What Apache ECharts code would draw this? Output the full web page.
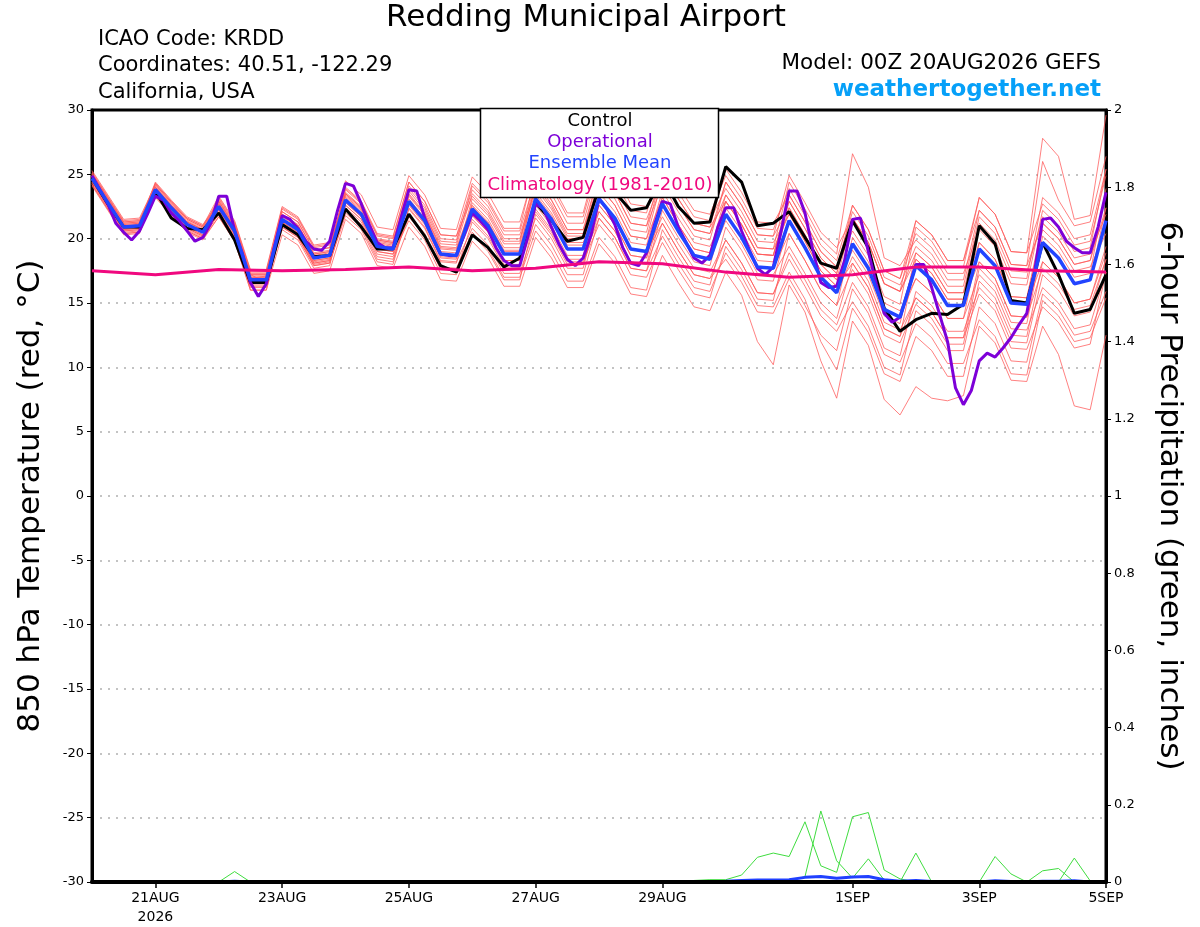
<!DOCTYPE html>
<html>
<head>
<meta charset="UTF-8">
<title>Redding Municipal Airport</title>
<style>
  html, body { margin: 0; padding: 0; background: #fff; }
  #main { width: 1200px; height: 927px; }
</style>
</head>
<body>
<div id="main"></div>
<script src="https://cdn.jsdelivr.net/npm/echarts@6/dist/echarts.min.js"></script>
<script>
// x axis tick positions (hours from 00Z 20AUG2026) and their labels
var xTickHours = [24, 72, 120, 168, 216, 288, 336, 384];
var xTickLabels = ['21AUG\n2026', '23AUG', '25AUG', '27AUG', '29AUG', '1SEP', '3SEP', '5SEP'];

// 850 hPa temperature, 6-hourly (65 values)
var control = [24.7,22.7,20.9,20.9, 23.7,21.6,20.8,20.7, 22.0,19.9,16.6,16.6, 21.1,20.3,18.6,18.7,
  22.3,20.9,19.2,19.2, 21.9,20.2,17.9,17.4, 20.3,19.3,17.8,18.5, 22.8,21.4,19.8,20.1,
  24.0,23.6,22.2,22.4, 24.8,22.5,21.2,21.3, 25.6,24.4,21.0,21.2, 22.1,20.1,18.1,17.7,
  21.4,19.3,14.6,12.8, 13.7,14.2,14.1,14.9, 21.0,19.6,15.2,15.0, 19.7,17.2,14.2,14.5, 17.2];
var ensMean = [24.7,22.8,20.9,21.0, 23.8,22.4,21.1,20.5, 22.5,20.6,16.8,16.8, 21.5,20.7,18.5,18.7,
  23.0,21.9,19.4,19.2, 22.9,21.4,18.8,18.7, 22.3,21.0,18.8,18.8, 23.1,21.5,19.2,19.2,
  23.1,21.6,19.2,19.0, 22.7,20.6,18.7,18.4, 21.9,20.1,17.8,17.7, 21.4,19.3,17.0,15.8,
  19.6,17.7,14.5,13.9, 17.9,16.8,14.8,14.8, 19.2,17.9,15.0,14.9, 19.7,18.5,16.5,16.8, 21.4];
// operational run, 3-hourly (129 values)
var operational = [24.9,23.8,22.7,21.2,20.5,19.9,20.6,21.9, 23.3,23.0,22.0,21.4,20.6,19.8,20.1,21.2,
  23.3,23.3,20.6,18.8,16.6,15.5,16.5,19.3, 21.8,21.5,20.8,19.8,19.2,19.1,19.8,22.2,
  24.3,24.1,22.7,21.1,19.7,19.3,19.3,21.6, 23.8,23.7,21.6,20.1,18.8,18.7,18.7,20.3,
  22.0,21.4,20.7,19.3,18.3,17.9,17.9,20.1, 22.7,22.3,20.9,19.5,18.4,17.9,18.5,20.3,
  23.1,22.3,21.1,19.3,18.1,17.9,18.9,21.1, 22.9,22.7,20.9,19.7,18.5,18.1,18.7,20.9,
  22.4,22.4,20.6,19.1,17.7,17.2,17.8,20.6, 23.7,23.7,22.0,19.1,16.6,16.2,16.3,18.3,
  21.5,21.6,19.0,16.5,14.2,13.5,13.9,15.9, 18.0,18.0,16.2,14.1,12.0,8.4,7.1,8.2,
  10.5,11.1,10.8,11.5,12.3,13.3,14.2,17.5, 21.5,21.6,20.9,19.8,19.3,18.9,18.9,20.9, 23.6];
// climatology 1981-2010, daily at 00Z (17 values)
var climatology = [17.5,17.2,17.6,17.5,17.6,17.8,17.5,17.7,18.2,18.05,17.4,17.0,17.2,17.8,17.8,17.5,17.4];

// ensemble members, 6-hourly
var m01 = [25.0,23.1,21.2,21.3,24.3,22.9,21.6,21.0,23.3,21.4,17.6,17.6,22.5,21.7,19.5,19.7,24.5,23.4,20.9,20.7,24.9,23.4,20.8,20.7,24.8,23.5,21.3,21.3,25.6,24.0,21.7,21.7,26.1,24.6,22.2,22.0,26.2,24.1,22.2,21.9,24.9,23.1,20.8,20.7,23.9,21.8,19.5,18.3,22.6,20.7,17.5,16.9,21.4,20.3,18.3,18.3,23.2,21.9,19.0,18.9,27.8,26.4,21.5,21.8,29.6];
var m02 = [24.4,22.5,20.6,20.7,23.3,21.9,20.6,20.0,21.7,19.8,16.0,16.0,20.3,19.5,17.3,17.5,21.5,20.4,17.9,17.7,20.9,19.4,16.8,16.7,19.8,18.5,16.3,16.3,20.1,18.5,16.2,16.2,19.6,18.1,15.7,15.5,18.7,16.6,14.7,14.4,17.4,15.6,12.0,10.2,16.4,14.3,10.5,7.6,13.6,11.7,7.5,6.3,8.5,7.6,7.4,7.8,13.2,11.9,9.0,8.9,13.2,11.0,7.0,6.7,12.5];
var m03 = [25.2,23.3,21.4,21.5,24.0,22.6,21.3,20.7,23.0,21.1,17.3,17.3,21.8,21.0,18.8,19.0,24.0,22.9,20.4,20.2,24.4,22.9,20.3,20.2,23.3,22.0,19.8,19.8,25.1,23.5,21.2,21.2,25.6,24.1,21.7,21.5,24.7,22.6,20.7,20.4,23.4,21.6,19.3,19.2,24.4,22.3,20.0,18.8,26.6,24.0,18.5,17.9,19.9,18.8,16.8,16.8,22.2,20.9,18.0,17.9,26.0,23.0,21.0,21.3,26.4];
var m04 = [24.2,22.3,20.4,20.5,23.5,22.1,20.8,20.2,22.3,20.4,16.5,16.9,21.0,20.2,18.0,18.2,22.0,20.9,18.4,18.2,22.4,20.9,18.3,18.2,20.8,19.5,17.3,17.3,21.1,19.5,17.2,17.2,21.6,20.1,17.7,17.5,20.2,18.1,16.2,15.9,18.9,17.1,14.8,14.7,17.4,15.3,12.0,9.8,14.6,12.7,9.5,8.9,12.4,11.3,9.3,9.3,14.7,13.4,10.5,10.4,15.7,14.5,12.5,12.8,15.9];
var m05 = [24.9,23.0,21.1,21.2,24.4,23.0,21.7,21.1,22.8,20.9,17.1,17.1,22.3,21.5,19.3,19.5,23.5,22.4,19.9,19.7,23.9,22.4,19.8,19.7,24.1,22.8,20.6,20.6,24.6,23.0,20.7,20.7,24.1,22.6,20.2,20.0,23.2,21.1,19.2,18.9,22.9,21.1,18.8,18.7,22.9,20.8,18.5,17.3,21.6,19.7,16.5,15.9,18.9,17.8,15.8,15.8,19.7,18.4,15.5,15.4,21.2,20.0,18.0,18.3,23.4];
var m06 = [24.5,22.6,20.7,20.8,23.8,22.4,21.1,20.5,22.1,20.2,16.4,16.4,21.3,20.5,18.3,18.5,22.2,21.1,18.6,18.4,21.7,20.2,17.6,17.5,21.3,20.0,17.8,17.8,22.6,21.0,18.7,18.7,23.1,21.6,19.2,19.0,21.7,19.6,17.7,17.4,19.9,18.1,15.8,15.7,18.9,16.8,14.5,13.3,16.6,14.7,11.5,10.9,15.9,14.8,12.8,12.8,16.2,14.9,12.0,11.9,17.2,16.0,14.0,14.3,18.4];
var m07 = [25.1,23.2,21.3,21.4,23.6,22.2,20.9,20.3,22.7,20.8,17.0,17.0,22.1,21.3,19.1,19.3,23.2,22.1,19.6,19.4,22.6,21.1,18.5,18.4,22.8,21.5,19.3,19.3,24.1,22.5,20.2,20.2,24.6,23.1,20.7,20.5,25.2,23.1,21.2,20.9,25.4,23.6,21.3,21.2,23.4,21.3,19.0,17.8,20.6,18.7,15.5,14.9,20.9,19.8,17.8,17.8,23.2,21.9,19.0,18.9,22.7,21.5,19.5,19.8,24.9];
var m08 = [24.3,22.4,20.5,20.6,24.1,22.7,21.4,20.8,22.3,20.4,16.6,16.6,20.7,19.9,17.7,17.9,22.6,21.5,19.0,18.8,23.4,21.9,19.3,19.2,22.3,21.0,18.8,18.8,22.1,20.5,18.2,18.2,21.1,19.6,17.2,17.0,19.7,17.6,15.7,15.4,19.4,17.6,15.3,15.2,20.4,18.3,16.0,14.8,20.1,18.2,15.0,14.4,16.9,15.8,13.8,13.8,17.2,15.9,13.0,12.9,16.2,15.0,13.0,13.3,17.4];
var m09 = [24.8,22.9,21.0,21.1,24.2,22.8,21.5,20.9,23.1,21.2,17.4,17.4,21.9,21.1,18.9,19.1,23.8,22.7,20.2,20.0,23.1,21.6,19.0,18.9,21.8,20.5,18.3,18.3,23.1,21.5,19.2,19.2,23.6,22.1,19.7,19.5,23.7,21.6,19.7,19.4,21.9,20.1,17.8,17.7,20.4,18.3,16.0,14.8,17.6,15.7,12.5,11.9,14.9,13.8,11.8,11.8,17.7,16.4,13.5,13.4,19.7,18.5,16.5,16.8,22.4];
var m10 = [24.6,22.7,20.8,20.9,23.4,22.0,20.7,20.1,21.9,20.0,16.2,16.2,21.1,20.3,18.1,18.3,23.3,22.2,19.7,19.5,23.7,22.2,19.6,19.5,23.5,22.2,20.0,20.0,23.6,22.0,19.7,19.7,22.6,21.1,18.7,18.5,22.7,20.6,18.7,18.4,22.9,21.1,18.8,18.7,23.4,21.3,19.0,17.8,22.1,20.2,17.0,16.4,19.4,18.3,16.3,16.3,21.7,20.4,17.5,17.4,21.7,20.5,18.5,18.8,21.9];
var m11 = [25.3,23.4,21.5,21.6,24.2,22.8,21.5,20.9,22.6,20.9,17.2,16.6,21.2,20.4,18.2,18.4,22.4,21.3,18.8,18.6,21.9,20.4,17.8,17.7,20.5,19.2,17.0,17.0,20.6,19.0,16.7,16.7,20.1,18.6,16.2,16.0,20.7,18.6,16.7,16.4,20.9,19.1,16.8,16.7,21.4,19.3,17.0,15.8,18.6,16.7,13.5,12.9,15.4,14.3,12.3,12.3,15.7,14.4,11.5,11.4,14.7,13.5,11.5,11.8,17.4];
var m12 = [24.1,22.2,20.3,20.4,23.6,22.2,20.9,20.3,22.9,21.0,17.2,17.2,22.1,21.3,19.1,19.3,23.4,22.3,19.8,19.6,22.9,21.4,18.8,18.7,23.1,21.8,19.6,19.6,24.6,23.0,20.7,20.7,25.1,23.6,21.2,21.0,24.2,22.1,20.2,19.9,24.4,22.6,20.3,20.2,24.9,22.8,20.5,19.3,21.6,19.7,16.5,15.9,18.4,17.3,15.3,15.3,18.2,16.9,14.0,13.9,20.2,19.0,17.0,17.3,23.9];
var m13 = [24.7,22.8,20.9,21.0,24.0,22.6,21.3,20.7,22.2,20.3,16.5,16.5,21.7,20.9,18.7,18.9,23.6,22.5,20.0,19.8,24.1,22.6,20.0,19.9,23.8,22.5,20.3,20.3,23.9,22.3,20.0,20.0,23.1,21.6,19.2,19.0,21.2,19.1,17.2,16.9,19.9,18.1,15.8,15.7,18.4,16.3,14.0,12.8,15.1,13.2,10.0,9.4,14.4,13.3,11.3,11.3,16.7,15.4,12.5,12.4,18.2,17.0,15.0,15.3,19.4];
var m14 = [24.9,23.0,21.1,21.2,23.3,21.9,20.6,20.0,22.0,20.1,16.3,16.3,21.5,20.7,18.5,18.7,22.8,21.7,19.2,19.0,23.5,22.0,19.4,19.3,22.6,21.3,19.1,19.1,24.3,22.7,20.4,20.4,25.1,23.6,21.2,21.0,25.7,23.6,21.7,21.4,23.9,22.1,19.8,19.7,21.9,19.8,17.5,16.3,19.1,17.2,14.0,13.4,18.9,17.8,15.8,15.8,21.2,19.9,17.0,16.9,23.2,22.0,20.0,20.3,25.4];
var m15 = [24.4,22.5,20.6,20.7,23.9,22.5,21.2,20.6,22.7,20.8,17.0,17.0,20.9,20.1,17.9,18.1,21.8,20.7,18.2,18.0,22.3,20.8,18.2,18.1,22.5,21.2,19.0,19.0,22.3,20.7,18.4,18.4,21.6,20.1,17.7,17.5,22.2,20.1,18.2,17.9,22.4,20.6,18.3,18.2,22.4,20.3,18.0,16.8,19.6,17.7,14.5,13.9,16.9,15.8,13.8,13.8,19.7,18.4,15.5,15.4,20.7,19.5,17.5,17.8,20.4];
var m16 = [25.1,23.2,21.3,21.4,23.8,22.4,21.1,20.5,23.2,21.3,17.5,17.5,22.4,21.6,19.4,19.6,23.5,22.4,19.9,19.7,22.9,21.4,18.8,18.7,21.5,20.2,18.0,18.0,21.6,20.0,17.7,17.7,22.6,21.1,18.7,18.5,23.2,21.1,19.2,18.9,23.4,21.6,19.3,19.2,21.9,19.8,17.5,16.3,18.1,16.2,13.0,12.4,15.4,14.3,12.3,12.3,18.2,16.9,14.0,13.9,17.7,16.5,14.5,14.8,18.4];
var m17 = [24.5,22.6,20.7,20.8,24.3,22.9,21.6,21.0,22.7,20.3,16.9,17.1,21.8,21.0,18.8,19.0,23.9,22.8,20.3,20.1,24.4,22.9,20.3,20.2,24.3,23.0,20.8,20.8,25.9,24.3,22.0,22.0,26.6,25.1,22.7,22.5,25.2,23.1,21.2,20.9,22.9,21.1,18.8,18.7,22.9,20.8,18.5,17.3,22.6,20.7,17.5,16.9,20.4,19.3,17.3,17.3,20.7,19.4,16.5,16.4,22.2,21.0,19.0,19.3,25.4];
var m18 = [24.8,22.9,21.0,21.1,23.5,22.1,20.8,20.2,22.9,21.0,17.2,17.2,21.3,20.5,18.3,18.5,22.6,21.5,19.0,18.8,21.4,19.9,17.3,17.2,20.3,19.0,16.8,16.8,21.9,20.3,18.0,18.0,22.1,20.6,18.2,18.0,21.2,19.1,17.2,16.9,18.4,16.6,14.3,14.2,16.9,14.8,12.5,11.3,16.1,14.2,11.0,10.4,13.4,12.3,10.3,10.3,13.7,12.4,9.5,9.4,15.2,14.0,12.0,12.3,15.4];
var m19 = [24.2,22.3,20.4,20.5,23.2,21.8,20.5,19.9,21.7,19.8,16.0,16.0,21.1,20.3,18.1,18.3,23.0,21.9,19.4,19.2,23.3,21.8,19.2,19.1,22.3,21.0,18.8,18.8,23.4,21.8,19.5,19.5,24.1,22.6,20.2,20.0,24.7,22.6,20.7,20.4,24.4,22.6,20.3,20.2,22.4,20.3,18.0,16.8,21.6,19.7,16.5,15.9,21.4,20.3,18.3,18.3,22.2,20.9,18.0,17.9,21.2,20.0,18.0,18.3,22.4];
var m20 = [25.0,23.1,21.2,21.3,24.0,22.6,21.3,20.7,22.3,20.4,16.6,16.6,20.9,20.1,17.9,18.1,22.8,21.7,19.2,19.0,22.7,21.2,18.6,18.5,21.8,20.5,18.3,18.3,23.1,21.5,19.2,19.2,22.1,20.6,18.2,18.0,22.7,20.6,18.7,18.4,21.4,19.6,17.3,17.2,19.4,17.3,15.0,13.8,18.1,16.2,13.0,12.4,18.4,17.3,15.3,15.3,19.2,17.9,15.0,14.9,18.2,17.0,15.0,15.3,18.9];
var members = [m01, m02, m03, m04, m05, m06, m07, m08, m09, m10, m11, m12, m13, m14, m15, m16, m17, m18, m19, m20];

// 6-hour precipitation (inches), 6-hourly; members with rain plus the ensemble mean
var pA = [0,0,0,0,0,0,0,0,0,0,0,0,0,0,0,0,0,0,0,0,0,0,0,0,0,0,0,0,0,0,0,0,0,0,0,0,0,0,0.004,0.006,0.006,0.018,0.064,0.075,0.066,0.156,0.042,0.025,0.169,0.180,0.031,0.008,0,0,0,0,0,0,0,0,0,0,0,0,0];
var pB = [0,0,0,0,0,0,0,0,0,0,0,0,0,0,0,0,0,0,0,0,0,0,0,0,0,0,0,0,0,0,0,0,0,0,0,0,0,0,0,0,0,0,0,0,0.003,0.014,0.184,0.055,0.010,0.060,0.005,0,0.075,0,0,0,0,0,0,0,0,0,0,0,0];
var pC = [0,0,0,0,0,0,0,0,0,0.027,0,0,0,0,0,0,0,0,0,0,0,0,0,0,0,0,0,0,0,0,0,0,0,0,0,0,0,0,0,0,0,0,0,0,0,0,0,0,0,0,0,0,0,0,0,0,0,0,0,0,0,0,0,0,0];
var pD = [0,0,0,0,0,0,0,0,0,0,0,0,0,0,0,0,0,0,0,0,0,0,0,0,0,0,0,0,0,0,0,0,0,0,0,0,0,0,0,0,0,0,0,0,0,0,0,0,0,0,0,0,0,0,0,0,0,0.066,0.021,0,0,0,0,0,0];
var pE = [0,0,0,0,0,0,0,0,0,0,0,0,0,0,0,0,0,0,0,0,0,0,0,0,0,0,0,0,0,0,0,0,0,0,0,0,0,0,0,0,0,0,0,0,0,0,0,0,0,0,0,0,0,0,0,0,0,0,0,0,0.029,0.035,0,0,0];
var pF = [0,0,0,0,0,0,0,0,0,0,0,0,0,0,0,0,0,0,0,0,0,0,0,0,0,0,0,0,0,0,0,0,0,0,0,0,0,0,0,0,0,0,0,0,0,0,0,0,0,0,0,0,0,0,0,0,0,0,0,0,0,0,0.062,0.003,0];
var precipMembers = [pA, pB, pC, pD, pE, pF];
var precipMean = [0,0,0,0,0,0,0,0,0,0.002,0,0,0,0,0,0,0,0,0,0,0,0,0,0,0,0,0,0,0,0,0,0,0,0,0,0,0,0,0.001,0.001,0.002,0.004,0.005,0.005,0.006,0.012,0.014,0.010,0.013,0.014,0.006,0.002,0.004,0.001,0,0,0,0.003,0.001,0,0.002,0.002,0.003,0,0];

var FONT = '"DejaVu Sans", Verdana, sans-serif';

function toXY(arr, step) {
  return arr.map(function(v, i) { return [i * step, v]; });
}

var series = [];
members.forEach(function(m, k) {
  series.push({
    name: 'member' + (k + 1), type: 'line', data: toXY(m, 6), symbol: 'none', silent: true,
    lineStyle: { color: '#ff5a5a', width: 0.9, opacity: 0.85 }, z: 1
  });
});
precipMembers.forEach(function(p, k) {
  series.push({
    name: 'precip' + (k + 1), type: 'line', yAxisIndex: 1, data: toXY(p, 6), symbol: 'none', silent: true,
    lineStyle: { color: '#3fdc3f', width: 1 }, z: 2
  });
});
series.push({
  name: 'Precip Mean', type: 'line', yAxisIndex: 1, data: toXY(precipMean, 6), symbol: 'none',
  lineStyle: { color: '#2040ff', width: 3 }, z: 3
});
series.push({
  name: 'Control', type: 'line', data: toXY(control, 6), symbol: 'none',
  lineStyle: { color: '#000', width: 3 }, z: 4
});
series.push({
  name: 'Operational', type: 'line', data: toXY(operational, 3), symbol: 'none',
  lineStyle: { color: '#7d00d8', width: 3 }, z: 5
});
series.push({
  name: 'Ensemble Mean', type: 'line', data: toXY(ensMean, 6), symbol: 'none',
  lineStyle: { color: '#2244ff', width: 3.5 }, z: 6
});
series.push({
  name: 'Climatology (1981-2010)', type: 'line', data: toXY(climatology, 24), symbol: 'none',
  lineStyle: { color: '#f0087f', width: 3 }, z: 7
});

var chart = echarts.init(document.getElementById('main'));
var option = {
  backgroundColor: '#fff',
  animation: false,
  textStyle: { fontFamily: FONT },
  grid: { left: 92, right: 94, top: 110, bottom: 44, show: true, borderColor: '#000', borderWidth: 3 },
  xAxis: {
    type: 'value', min: 0, max: 384, z: 10,
    axisLine: { onZero: false, lineStyle: { color: '#000', width: 4 } },
    axisTick: { customValues: xTickHours, length: 6, lineStyle: { color: '#000', width: 1.5 } },
    axisLabel: {
      customValues: xTickHours, color: '#000', fontSize: 14, fontFamily: FONT, margin: 7, lineHeight: 19,
      formatter: function(v) { return xTickLabels[xTickHours.indexOf(v)] || ''; }
    },
    splitLine: { show: false }
  },
  yAxis: [{
    type: 'value', min: -30, max: 30, interval: 5,
    name: '850 hPa Temperature (red, °C)', nameLocation: 'middle', nameGap: 46, nameRotate: 90,
    nameTextStyle: { fontSize: 31, color: '#000', fontFamily: FONT },
    axisLine: { show: true, onZero: false, lineStyle: { color: '#000', width: 3 } },
    axisTick: { show: true, length: 5, lineStyle: { color: '#000', width: 1 } },
    axisLabel: { color: '#000', fontSize: 13, fontFamily: FONT, margin: 8 },
    splitLine: { show: true, showMinLine: false, showMaxLine: false, lineStyle: { color: '#b0b0b0', width: 1.5, type: [2, 6] } }
  }, {
    type: 'value', min: 0, max: 2, interval: 0.2, position: 'right',
    name: '6-hour Precipitation (green, inches)', nameLocation: 'middle', nameGap: 48, nameRotate: -90,
    nameTextStyle: { fontSize: 31, color: '#000', fontFamily: FONT },
    axisLine: { show: true, onZero: false, lineStyle: { color: '#000', width: 3 } },
    axisTick: { show: true, length: 5, lineStyle: { color: '#000', width: 1 } },
    axisLabel: { color: '#000', fontSize: 13, fontFamily: FONT, margin: 8 },
    splitLine: { show: false }
  }],
  graphic: [
    { type: 'text', z: 100, style: { x: 586, y: 18, text: 'Redding Municipal Airport', textAlign: 'center', textVerticalAlign: 'middle', font: '31px ' + FONT, fill: '#000' } },
    { type: 'text', z: 100, style: { x: 98, y: 40, text: 'ICAO Code: KRDD', textVerticalAlign: 'middle', font: '21px ' + FONT, fill: '#000' } },
    { type: 'text', z: 100, style: { x: 98, y: 66, text: 'Coordinates: 40.51, -122.29', textVerticalAlign: 'middle', font: '21px ' + FONT, fill: '#000' } },
    { type: 'text', z: 100, style: { x: 98, y: 93, text: 'California, USA', textVerticalAlign: 'middle', font: '21px ' + FONT, fill: '#000' } },
    { type: 'text', z: 100, style: { x: 1101, y: 63, text: 'Model: 00Z 20AUG2026 GEFS', textAlign: 'right', textVerticalAlign: 'middle', font: '21.5px ' + FONT, fill: '#000' } },
    { type: 'text', z: 100, style: { x: 1101, y: 90, text: 'weathertogether.net', textAlign: 'right', textVerticalAlign: 'middle', font: 'bold 23px ' + FONT, fill: '#06a0f8' } },
    // legend box
    { type: 'rect', z: 100, shape: { x: 480.5, y: 108.5, width: 238, height: 89 }, style: { fill: '#fff', stroke: '#000', lineWidth: 1.5 } },
    { type: 'text', z: 101, style: { x: 600, y: 121, text: 'Control', textAlign: 'center', textVerticalAlign: 'middle', font: '18px ' + FONT, fill: '#000' } },
    { type: 'text', z: 101, style: { x: 600, y: 142, text: 'Operational', textAlign: 'center', textVerticalAlign: 'middle', font: '18px ' + FONT, fill: '#7d00d8' } },
    { type: 'text', z: 101, style: { x: 600, y: 163, text: 'Ensemble Mean', textAlign: 'center', textVerticalAlign: 'middle', font: '18px ' + FONT, fill: '#2244ff' } },
    { type: 'text', z: 101, style: { x: 600, y: 185, text: 'Climatology (1981-2010)', textAlign: 'center', textVerticalAlign: 'middle', font: '18px ' + FONT, fill: '#f0087f' } }
  ],
  series: series
};
chart.setOption(option);
</script>
</body>
</html>
